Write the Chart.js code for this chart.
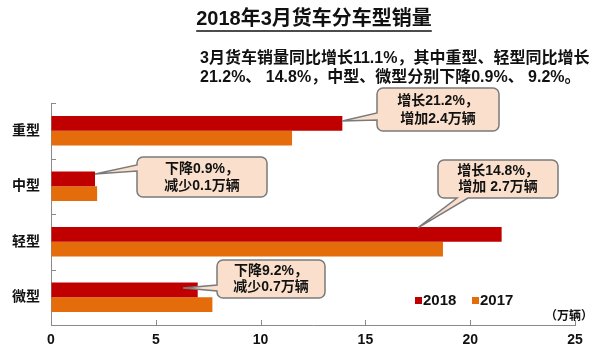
<!DOCTYPE html>
<html>
<head>
<meta charset="utf-8">
<script src="https://cdn.jsdelivr.net/npm/chart.js@4/dist/chart.umd.min.js"></script>
<style>
  html, body { margin: 0; padding: 0; background: #fff; }
  #wrap { width: 600px; height: 352px; }
</style>
</head>
<body>
<div id="wrap"><canvas id="truckChart" width="600" height="352"></canvas></div>
<script>
const categories = ['重型', '中型', '轻型', '微型'];
const sales2018 = [13.9, 2.1, 21.5, 7.0];
const sales2017 = [11.5, 2.2, 18.7, 7.7];
const seriesLabels = ['2018', '2017'];
const xTicks = [0, 5, 10, 15, 20, 25];
const titleText = '2018年3月货车分车型销量';
const noteLines = ['3月货车销量同比增长11.1%，其中重型、轻型同比增长', '21.2%、 14.8%，中型、微型分别下降0.9%、 9.2%。'];
const calloutText = [
  ['增长21.2%，', '增加2.4万辆'],
  ['下降0.9%，', '减少0.1万辆'],
  ['增长14.8%，', '增加 2.7万辆'],
  ['下降9.2%，', '减少0.7万辆']
];
const unitText = '（万辆）';

const FONT = '"Liberation Sans", Arial, "Noto Sans CJK SC", sans-serif';
const RED = '#C00000';
const ORANGE = '#E46C0A';
const AXIS = '#8a8a8a';

// where each callout box sits and where its pointer lands (category, value on the x scale)
const calloutLayout = [
  { cat: 0, value: 13.9, dy: -2.5, box: [377, 88, 122, 43], side: 'left', a: 25, b: 32 },
  { cat: 1, value: 2.1, dy: -5, box: [137, 157, 130, 40], side: 'left', a: 8, b: 14 },
  { cat: 2, value: 17.5, dy: -6.5, box: [438, 160, 120, 38], side: 'bottom', a: 19, b: 30 },
  { cat: 3, value: 6.3, dy: -2, box: [217, 260, 108, 38], side: 'left', a: 25, b: 31 }
];

function calloutPath(ctx, x, y, w, h, r, side, a, b, tx, ty) {
  ctx.beginPath();
  ctx.moveTo(x + r, y);
  ctx.lineTo(x + w - r, y);
  ctx.arcTo(x + w, y, x + w, y + r, r);
  ctx.lineTo(x + w, y + h - r);
  ctx.arcTo(x + w, y + h, x + w - r, y + h, r);
  if (side === 'bottom') {
    ctx.lineTo(x + b, y + h);
    ctx.lineTo(tx, ty);
    ctx.lineTo(x + a, y + h);
  }
  ctx.lineTo(x + r, y + h);
  ctx.arcTo(x, y + h, x, y + h - r, r);
  if (side === 'left') {
    ctx.lineTo(x, y + b);
    ctx.lineTo(tx, ty);
    ctx.lineTo(x, y + a);
  }
  ctx.lineTo(x, y + r);
  ctx.arcTo(x, y, x + r, y, r);
  ctx.closePath();
}

const extras = {
  id: 'extras',
  afterDatasetsDraw(chart) {
    const ctx = chart.ctx;
    const xs = chart.scales.x;
    const area = chart.chartArea;
    const meta = chart.getDatasetMeta(0);
    ctx.save();

    // inner tick marks
    ctx.strokeStyle = AXIS;
    ctx.lineWidth = 1;
    xTicks.forEach(v => {
      const px = Math.round(xs.getPixelForValue(v)) + 0.5;
      ctx.beginPath();
      ctx.moveTo(px, area.bottom);
      ctx.lineTo(px, area.bottom - 5);
      ctx.stroke();
    });
    for (let i = 0; i <= categories.length; i++) {
      const py = Math.round(area.top + (area.bottom - area.top) * i / categories.length) + 0.5;
      ctx.beginPath();
      ctx.moveTo(area.left, py);
      ctx.lineTo(area.left + 5, py);
      ctx.stroke();
    }

    // callouts
    calloutLayout.forEach((c, i) => {
      const bar = meta.data[c.cat];
      const tx = xs.getPixelForValue(c.value);
      const ty = bar.y + c.dy;
      const [bx, by, bw, bh] = c.box;
      calloutPath(ctx, bx, by, bw, bh, 6, c.side, c.a, c.b, tx, ty);
      ctx.fillStyle = '#FAE0CC';
      ctx.fill();
      ctx.strokeStyle = '#7a7a7a';
      ctx.lineWidth = 1.5;
      ctx.stroke();
      ctx.fillStyle = '#111';
      ctx.font = 'bold 14px ' + FONT;
      ctx.textAlign = 'center';
      ctx.textBaseline = 'middle';
      const lines = calloutText[i];
      ctx.fillText(lines[0], bx + bw / 2, by + bh * 0.3);
      ctx.fillText(lines[1], bx + bw / 2, by + bh * 0.72);
    });

    // title with underline
    ctx.fillStyle = '#111';
    ctx.font = 'bold 20px ' + FONT;
    ctx.textAlign = 'center';
    ctx.textBaseline = 'middle';
    ctx.fillText(titleText, 314, 19);
    const tw = ctx.measureText(titleText).width;
    ctx.strokeStyle = '#111';
    ctx.lineWidth = 1.5;
    ctx.beginPath();
    ctx.moveTo(314 - tw / 2, 31);
    ctx.lineTo(314 + tw / 2, 31);
    ctx.stroke();

    // note
    ctx.font = 'bold 16px ' + FONT;
    ctx.textAlign = 'left';
    noteLines.forEach((t, i) => ctx.fillText(t, 200, 59 + i * 19));

    // legend
    ctx.font = 'bold 15px ' + FONT;
    const legX = [415, 472];
    chart.data.datasets.forEach((ds, i) => {
      ctx.fillStyle = ds.backgroundColor;
      ctx.fillRect(legX[i], 297, 7, 7);
      ctx.fillStyle = '#111';
      ctx.fillText(ds.label, legX[i] + 8, 301);
    });

    // unit
    ctx.font = 'bold 12px ' + FONT;
    ctx.fillText(unitText, 545, 317);
    ctx.restore();
  }
};

new Chart(document.getElementById('truckChart'), {
  type: 'bar',
  data: {
    labels: categories,
    datasets: [
      { label: seriesLabels[0], data: sales2018, backgroundColor: RED },
      { label: seriesLabels[1], data: sales2017, backgroundColor: ORANGE }
    ]
  },
  options: {
    indexAxis: 'y',
    responsive: false,
    animation: false,
    categoryPercentage: 0.53,
    barPercentage: 1,
    layout: { padding: { top: 103, right: 25, left: 0, bottom: 0 } },
    plugins: {
      legend: { display: false },
      tooltip: { enabled: false }
    },
    scales: {
      x: {
        min: 0,
        max: 25,
        afterBuildTicks: s => { s.ticks = xTicks.map(v => ({ value: v })); },
        afterFit: s => { s.height = 27; },
        ticks: { color: '#111', font: { family: FONT, size: 14, weight: 'bold' }, padding: 7 },
        grid: { drawOnChartArea: false, drawTicks: false },
        border: { color: AXIS, width: 1 }
      },
      y: {
        afterFit: s => { s.width = 51; },
        ticks: { color: '#111', font: { family: FONT, size: 14, weight: 'bold' }, padding: 11 },
        grid: { drawOnChartArea: false, drawTicks: false },
        border: { color: AXIS, width: 1 }
      }
    }
  },
  plugins: [extras]
});
</script>
</body>
</html>
